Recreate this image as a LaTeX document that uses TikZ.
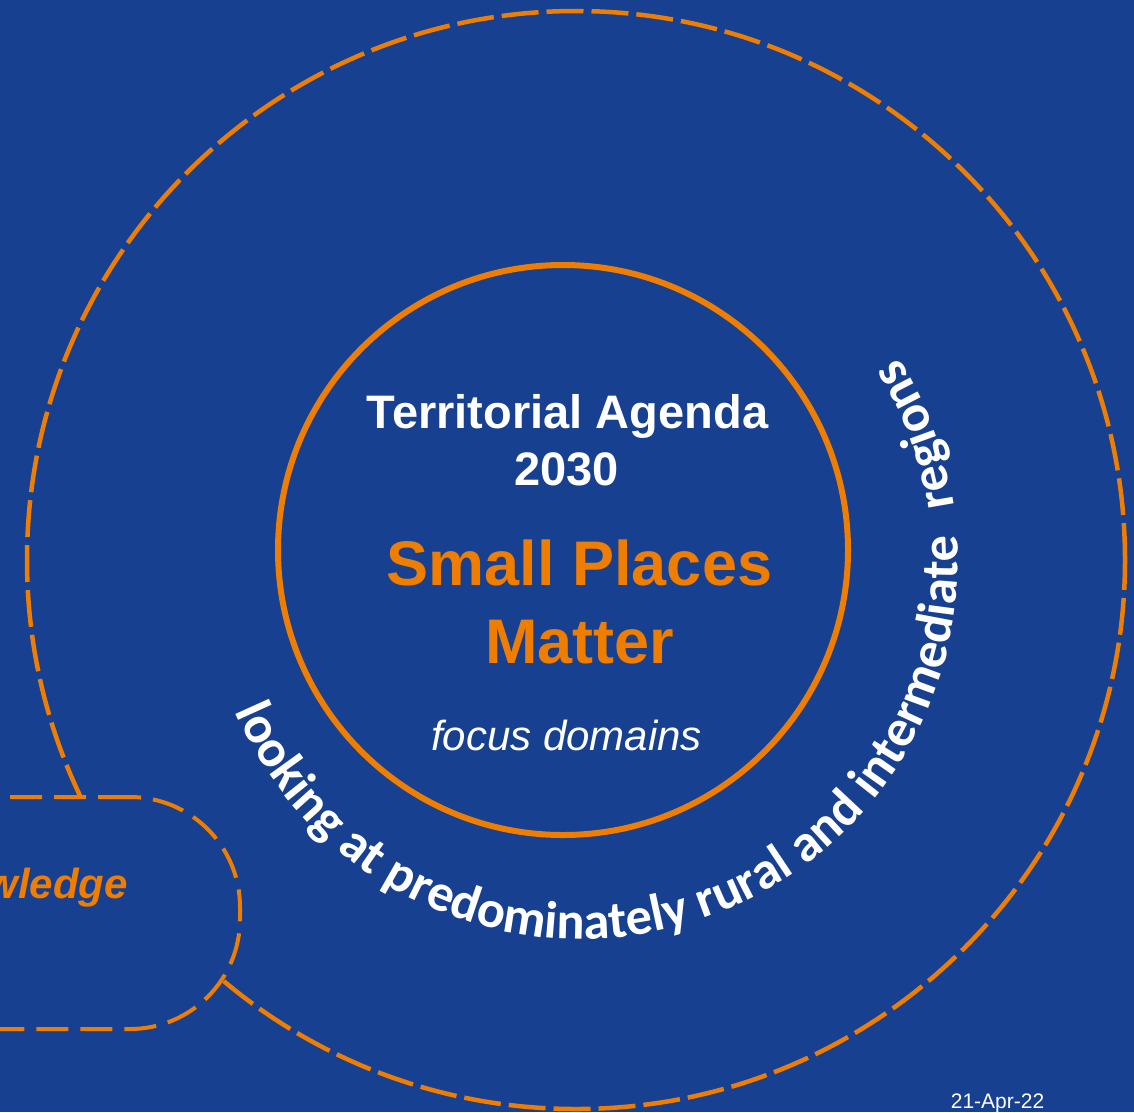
\documentclass[tikz,border=0pt]{standalone}
\usepackage{fontspec}
\setmainfont{Liberation Sans}
\newfontfamily\carlito{Carlito}
\usetikzlibrary{decorations.text}
\definecolor{bg}{RGB}{23,64,145}
\definecolor{org}{RGB}{239,125,0}
\tikzset{
  curvedtext/.style={decorate, decoration={text along path, text color=white,
    text={|\carlito\bfseries\fontsize{52.5}{52.5}\selectfont|#1}}},
  whitetxt/.style={text=white, inner sep=0pt, anchor=base, font=\bfseries\fontsize{47}{47}\selectfont},
  orangetxt/.style={text=org, inner sep=0pt, anchor=base, font=\bfseries\fontsize{63}{63}\selectfont}
}
\begin{document}
\begin{tikzpicture}[x=1pt,y=1pt]
\useasboundingbox (0,0) rectangle (1134,-1112);
\fill[bg] (0,0) rectangle (1134,-1112);
\clip (0,0) rectangle (1134,-1112);
% big dashed circle
\node[circle, draw=org, line width=4.5pt, dash pattern=on 37pt off 8pt, minimum size=1098pt, inner sep=0pt] (outer) at (576,-560) {};
% knowledge box
\node[draw=org, fill=bg, line width=4pt, dash pattern=on 32pt off 12pt, rounded corners=110pt, minimum width=440pt, minimum height=232pt, inner sep=0pt] (kbox) at (20,-913) {};
\node[text=org, inner sep=0pt, anchor=base east, font=\bfseries\itshape\fontsize{42}{42}\selectfont] (know) at (128,-898) {wledge};
% inner circle
\node[circle, draw=org, line width=6pt, minimum size=570pt, inner sep=0pt] (inner) at (563,-550) {};
\node[whitetxt] (ta) at (567.5,-428) {Territorial Agenda};
\node[whitetxt] (yr) at (566.5,-485) {2030};
\node[orangetxt] (spm) at (579.5,-585) {Small Places};
\node[orangetxt] (mat) at (580,-663) {Matter};
\node[text=white, inner sep=0pt, anchor=base, font=\itshape\fontsize{42}{42}\selectfont] (focus) at (566.5,-750) {focus domains};
% curved text
\coordinate (tc) at (581,-562);
\path[curvedtext={looking at predominately rural and intermediate}] ([shift={(tc)}]203.4:377) arc[start angle=203.4, end angle=366, radius=377];
\path[curvedtext={regions}] ([shift={(tc)}]8.4:377) arc[start angle=8.4, end angle=45, radius=377];
% date
\node[text=white, inner sep=0pt, anchor=base, font=\fontsize{21}{21}\selectfont] (date) at (997.5,-1108) {21-Apr-22};
\end{tikzpicture}
\end{document}
